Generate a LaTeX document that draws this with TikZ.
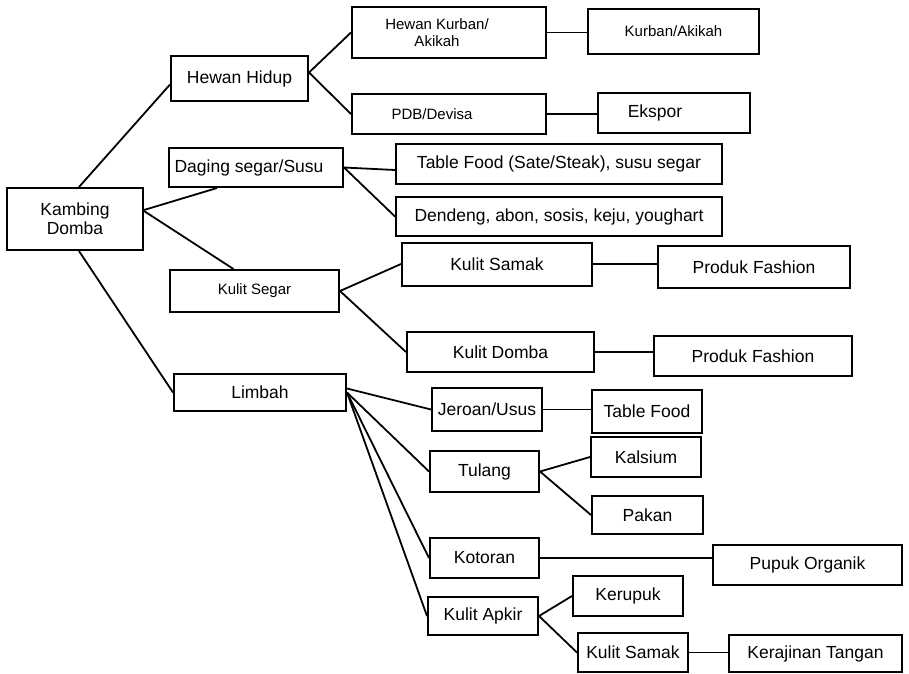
\documentclass[tikz,border=0pt]{standalone}
\usepackage{fontspec}
\setmainfont{Liberation Sans}
\usepackage{tikz}
\usetikzlibrary{positioning, calc}

\begin{document}
\begin{tikzpicture}[
            x=1pt, y=-1pt,
            box/.style={rectangle, draw=black, line width=2pt, inner sep=0pt, align=center, font=\fontsize{17.5}{19}\selectfont},
            smallbox/.style={box, font=\fontsize{15}{17}\selectfont},
            link/.style={-, line width=1.8pt}
        ]
            \useasboundingbox (0,0) rectangle (909,673);

% Root node
            \node[box, minimum width=136pt, minimum height=62pt] (kd) at (75,219) {Kambing\\Domba};

% Level 1
            \node[box, minimum width=137pt, minimum height=45pt] (hh) at (239.5,78.5) {Hewan Hidup};
            \node[box, minimum width=174pt, minimum height=39pt] (ds) at (256,167.5) {\hspace*{-14pt}Daging segar/Susu};
            \node[smallbox, minimum width=169pt, minimum height=42pt] (ks) at (254.5,291) {Kulit Segar};
            \node[box, minimum width=172pt, minimum height=37pt] (lb) at (260,392.5) {Limbah};

% Level 2
            \node[smallbox, minimum width=194pt, minimum height=51pt] (hk) at (449,32.5) {\hspace*{-24pt}Hewan Kurban/\\\hspace*{-24pt}Akikah};
            \node[smallbox, minimum width=194pt, minimum height=40pt] (pdb) at (449,114) {\hspace*{-34pt}PDB/Devisa};
            \node[box, minimum width=326pt, minimum height=40pt] (tf) at (559,164) {Table Food (Sate/Steak), susu segar};
            \node[box, minimum width=326pt, minimum height=39pt] (dd) at (559,216.5) {Dendeng, abon, sosis, keju, youghart};
            \node[box, minimum width=190pt, minimum height=43pt] (sm1) at (497,264) {Kulit Samak};
            \node[box, minimum width=187pt, minimum height=40pt] (kdb) at (500.5,352) {Kulit Domba};
            \node[box, minimum width=110pt, minimum height=43pt] (jr) at (487,409.5) {Jeroan/Usus};
            \node[box, minimum width=109pt, minimum height=41pt] (tl) at (484.5,471.5) {Tulang};
            \node[box, minimum width=109pt, minimum height=40pt] (kt) at (484.5,558) {Kotoran};
            \node[box, minimum width=110pt, minimum height=38pt] (ap) at (483,616) {Kulit Apkir};

% Level 3
            \node[smallbox, minimum width=171pt, minimum height=45pt] (ka) at (673.5,31) {Kurban/Akikah};
            \node[box, minimum width=152pt, minimum height=40pt] (ek) at (674,113) {\hspace*{-38pt}Ekspor};
            \node[box, minimum width=192pt, minimum height=42pt] (pf1) at (754,267) {Produk Fashion};
            \node[box, minimum width=198pt, minimum height=40pt] (pf2) at (753,356) {Produk Fashion};
            \node[box, minimum width=110pt, minimum height=43pt] (tfd) at (647,411.5) {Table Food};
            \node[box, minimum width=110pt, minimum height=40pt] (kl) at (646,457) {Kalsium};
            \node[box, minimum width=111pt, minimum height=38pt] (pk) at (647.5,515) {Pakan};
            \node[box, minimum width=189pt, minimum height=40pt] (po) at (807.5,565) {Pupuk Organik};
            \node[box, minimum width=110pt, minimum height=40pt] (kr) at (628,596) {Kerupuk};
            \node[box, minimum width=110pt, minimum height=39pt] (sm2) at (633,652.5) {Kulit Samak};
            \node[box, minimum width=173pt, minimum height=37pt] (kj) at (815.5,653.5) {Kerajinan Tangan};

% Root connections
            \draw[link] ([xshift=4pt]kd.north) -- ([yshift=-6pt]hh.west);
            \draw[link] ([yshift=9pt]kd.east) -- ([xshift=-39pt]ds.south);
            \draw[link] ([yshift=8pt]kd.east) -- ([xshift=-21pt]ks.north);
            \draw[link] ([xshift=4pt]kd.south) -- (lb.west);

% Level 1 connections
            \draw[link] ([yshift=6pt]hh.east) -- (hk.west);
            \draw[link] ([yshift=6pt]hh.east) -- (pdb.west);
            \draw[link] (ds.east) -- ([yshift=-6pt]tf.west);
            \draw[link] (ds.east) -- (dd.west);
            \draw[link] (ks.east) -- (sm1.west);
            \draw[link] (ks.east) -- (kdb.west);
            \draw[link] ([yshift=4pt]lb.east) -- (jr.west);
            \draw[link] (lb.east) -- (tl.west);
            \draw[link] (lb.east) -- (kt.west);
            \draw[link] (lb.east) -- (ap.west);

% Level 2 connections
            \draw[link] (hk.east) -- (hk.east -| ka.west);
            \draw[link] (pdb.east) -- (pdb.east -| ek.west);
            \draw[link] (sm1.east) -- (sm1.east -| pf1.west);
            \draw[link] (kdb.east) -- (kdb.east -| pf2.west);
            \draw[link] (jr.east) -- (jr.east -| tfd.west);
            \draw[link] (tl.east) -- (kl.west);
            \draw[link] (tl.east) -- (pk.west);
            \draw[link] (kt.east) -- (kt.east -| po.west);
            \draw[link] (ap.east) -- (kr.west);
            \draw[link] (ap.east) -- (sm2.west);
            \draw[link] (sm2.east) -- (sm2.east -| kj.west);

        \end{tikzpicture}
\end{document}
